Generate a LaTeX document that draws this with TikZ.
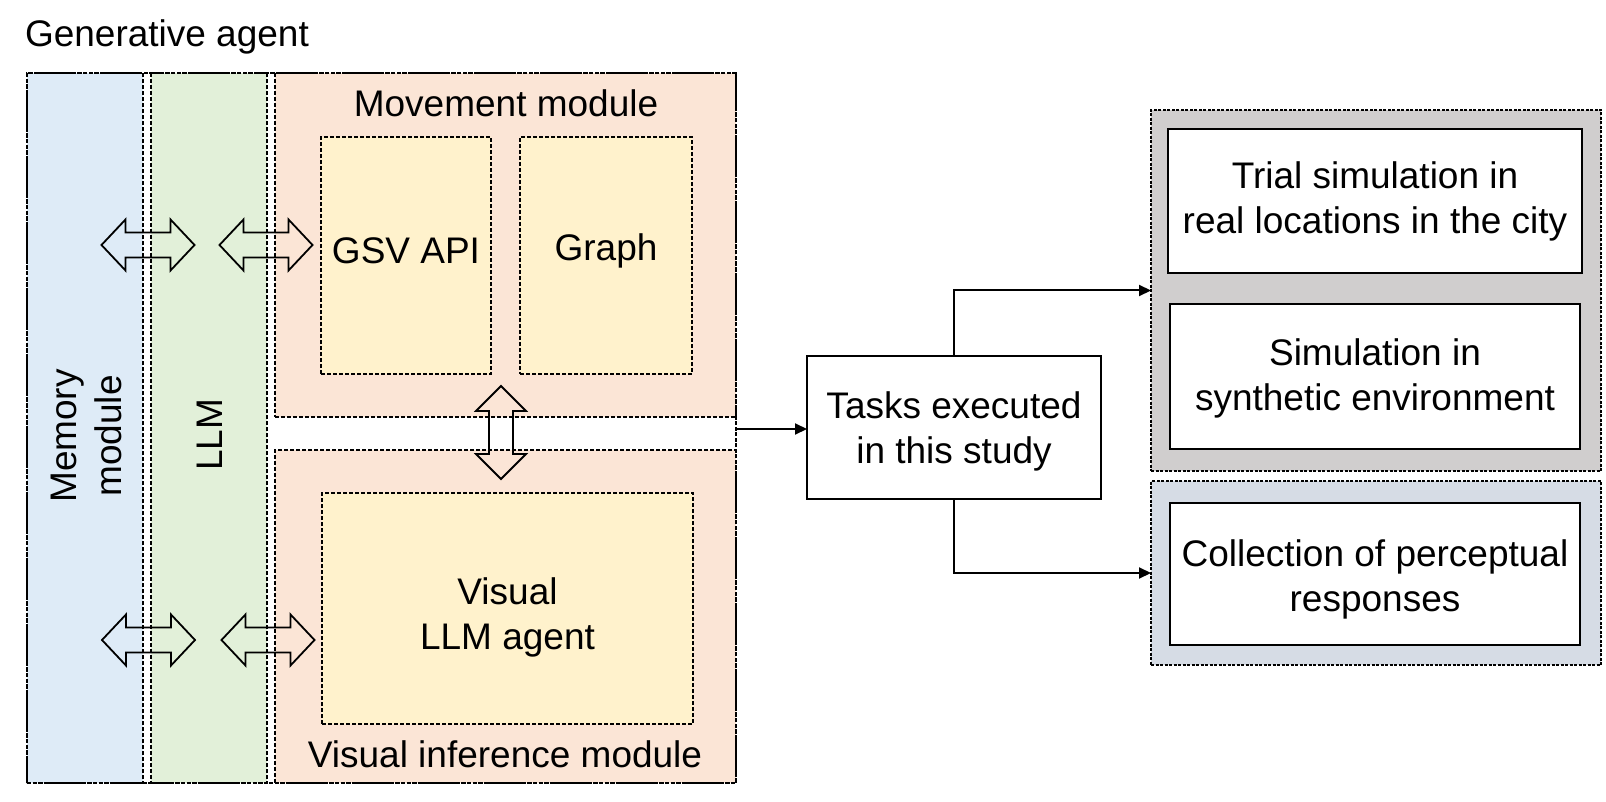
\documentclass[tikz,border=0pt]{standalone}
\usepackage{fontspec}
\setmainfont{Liberation Sans}
\usetikzlibrary{arrows.meta}
\definecolor{cblue}{HTML}{DEEBF7}
\definecolor{cgreen}{HTML}{E2F0D9}
\definecolor{corange}{HTML}{FBE5D6}
\definecolor{cyellow}{HTML}{FFF2CC}
\definecolor{cgrey}{HTML}{D0CECE}
\definecolor{cbluegrey}{HTML}{D6DCE5}
\begin{document}
\begin{tikzpicture}[x=1pt,y=-1pt,
  every node/.style={font=\fontsize{37}{45}\selectfont, inner sep=0pt, outer sep=0pt, align=center},
  region/.style={rectangle, draw, line width=1.3pt, dash pattern=on 4pt off 2pt},
  finebox/.style={rectangle, draw, line width=1.2pt, dash pattern=on 3pt off 1.5pt},
  outerbox/.style={rectangle, draw, line width=1.8pt, dash pattern=on 4pt off 1.5pt},
  solidbox/.style={rectangle, draw, line width=2pt, fill=white},
  blockarrow/.style={draw, line width=1.8pt, line join=miter},
  conn/.style={line width=2pt, -{Triangle[length=12pt,width=11pt]}},
  hdarrow/.pic={\path[blockarrow] (-46.5,0) -- (-22.5,-25.5) -- (-22.5,-12.5) -- (22.5,-12.5) -- (22.5,-25.5) -- (46.5,0) -- (22.5,25.5) -- (22.5,12.5) -- (-22.5,12.5) -- (-22.5,25.5) -- cycle;},
  vdarrow/.pic={\path[blockarrow] (0,-46.5) -- (-25,-21.5) -- (-12,-21.5) -- (-12,21.5) -- (-25,21.5) -- (0,46.5) -- (25,21.5) -- (12,21.5) -- (12,-21.5) -- (25,-21.5) -- cycle;}
]
\useasboundingbox (0,0) rectangle (1606,802);

% title
\node[anchor=base west] (title) at (25,47) {Generative agent};

% left column regions
\node[region, fill=cblue, minimum width=116pt, minimum height=710pt] (memory) at (85,428) {};
\node[region, fill=cgreen, minimum width=116pt, minimum height=710pt] (llm) at (209,428) {};
\node[region, fill=corange, minimum width=461pt, minimum height=344pt] (movement) at (505.5,245) {};
\node[region, fill=corange, minimum width=461pt, minimum height=333pt] (visinf) at (505.5,616.5) {};
\node[outerbox, minimum width=709pt, minimum height=710pt] (agent) at (381.5,428) {};

% inner yellow boxes
\node[region, fill=cyellow, minimum width=170pt, minimum height=237pt] (gsv) at (406,255.5) {};
\node[region, fill=cyellow, minimum width=172pt, minimum height=237pt] (graph) at (606,255.5) {};
\node[region, fill=cyellow, minimum width=371pt, minimum height=231pt] (visagent) at (507.5,608.5) {};

% labels
\node[rotate=90] (memtext) at (86,436) {Memory\\module};
\node[rotate=90] (llmtext) at (210,435) {LLM};
\node[anchor=base] (movtext) at (506,117) {Movement module};
\node[anchor=base] (vistext) at (505,767) {Visual inference module};
\node (gsvtext) at (gsv.center |- 0,251) {GSV API};
\node (graphtext) at (graph.center |- 0,251) {Graph};
\node (visagenttext) at (507.5,617) {Visual\\LLM agent};

% block double arrows
\pic at (148,245) {hdarrow};
\pic at (266,245) {hdarrow};
\pic at (148.5,640) {hdarrow};
\pic at (268,640) {hdarrow};
\pic at (501,432.5) {vdarrow};

% tasks
\node[solidbox, minimum width=294pt, minimum height=143pt] (tasks) at (954,427.5) {};
\node (taskstext) at (954,431) {Tasks executed\\ in this study};

% right groups
\node[finebox, fill=cgrey, minimum width=450pt, minimum height=361pt] (sims) at (1376,290.5) {};
\node[solidbox, minimum width=414pt, minimum height=144pt] (trial) at (1375,201) {Trial simulation in\\real locations in the city};
\node[solidbox, minimum width=410pt, minimum height=145pt] (synth) at (1375,376.5) {};
\node (synthtext) at (1375,378.5) {Simulation in\\synthetic environment};
\node[finebox, fill=cbluegrey, minimum width=450pt, minimum height=184pt] (percgroup) at (1376,573) {};
\node[solidbox, minimum width=410pt, minimum height=142pt] (perc) at (1375,574) {};
\node (perctext) at (1375,579) {Collection of perceptual\\responses};

% connectors
\coordinate (gapout) at (736,429);
\draw[conn] (gapout) -- (gapout -| tasks.west);
\draw[conn] (tasks.north) |- (sims.west);
\draw[conn] (tasks.south) |- (percgroup.west);
\end{tikzpicture}
\end{document}
